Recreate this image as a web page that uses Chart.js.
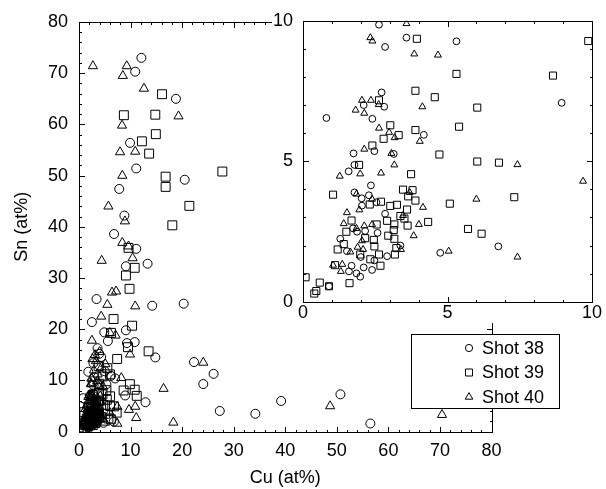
<!DOCTYPE html>
<html>
<head>
<meta charset="utf-8">
<script src="https://cdn.jsdelivr.net/npm/chart.js@4.4.1/dist/chart.umd.min.js"></script>
<style>
  html, body { margin: 0; padding: 0; background: #fff; }
  #wrap { position: relative; width: 606px; height: 489px; }
  #main { position: absolute; left: 0; top: 0; }
  #inset { position: absolute; left: 262px; top: 0; }
</style>
</head>
<body>
<div id="wrap">
  <canvas id="main" width="606" height="489"></canvas>
  <canvas id="inset" width="344" height="323"></canvas>
</div>
<script>
  // series labels
  const seriesNames = ["Shot 38", "Shot 39", "Shot 40"];

  // axis titles / ranges
  const xTitle = "Cu (at%)";
  const yTitle = "Sn (at%)";
  const mainRange = [0, 80];
  const insetRange = [0, 10];

  // Shot 38 (circles)
  const shot38X = [12.1, 10.9, 18.8, 9.9, 11.1, 20.5, 7.8, 8.8, 6.8, 11.1, 13.3, 9.1, 3.4, 14.2, 20.3, 2.5, 9.1, 4.9, 10.8, 9.3, 5.6, 3.6, 3.9, 14.8, 22.3, 26.1, 24.1, 1.8, 7.0, 12.9, 27.3, 34.2, 39.2, 50.7, 56.5, 2.8, 4.3, 3.0, 5.0, 6.2,
    2.63, 3.58, 2.84, 5.31, 2.72, 2.10, 2.81, 8.95, 0.81, 2.40, 4.18, 2.47, 1.75, 3.14, 1.78, 1.58, 2.35, 1.78, 2.28, 2.03, 2.54, 2.04, 2.84, 1.73, 1.87, 2.15, 2.58, 1.29, 3.37, 6.76, 4.75, 1.52, 2.00, 2.91, 2.47, 1.68, 2.10, 1.59, 2.39, 1.85, 1.98, 0.90];
  const shot38Y = [73.0, 70.3, 65.0, 56.4, 51.4, 49.2, 47.4, 42.2, 38.6, 35.7, 32.8, 32.3, 25.9, 24.6, 25.0, 21.4, 19.8, 19.4, 17.5, 17.3, 17.7, 16.3, 15.2, 14.5, 13.6, 11.3, 9.3, 11.7, 10.4, 5.75, 4.05, 3.5, 6.0, 7.3, 1.6, 13.4, 14.6, 10.6, 11.8, 10.9,
    9.86, 9.40, 9.07, 9.27, 7.45, 7.00, 6.94, 7.08, 6.54, 6.51, 5.94, 5.36, 5.28, 5.26, 4.87, 4.64, 4.14, 3.89, 3.79, 3.68, 3.54, 3.42, 3.13, 2.61, 2.49, 2.52, 2.45, 2.24, 2.00, 1.97, 1.74, 1.80, 1.59, 1.62, 1.47, 1.28, 1.22, 1.08, 1.13, 1.01, 0.89, 0.55];

  // Shot 39 (squares)
  const shot39X = [16.1, 8.7, 14.8, 14.9, 12.2, 13.6, 27.8, 16.8, 16.8, 21.4, 18.1, 9.6, 10.8, 9.1, 9.8, 6.7, 10.3, 6.2, 9.5, 7.4, 13.5, 10.8, 11.2, 5.5, 4.6, 6.0, 3.8,
    3.94, 9.87, 5.31, 8.65, 3.89, 4.56, 2.63, 6.03, 3.02, 5.40, 3.89, 3.31, 2.79, 2.40, 4.72, 6.03, 6.78, 1.94, 3.74, 3.46, 3.79, 1.04, 3.64, 2.70, 3.89, 7.31, 5.08, 2.31, 3.02, 3.25, 3.60, 3.37, 3.51, 2.91, 4.33, 1.68, 2.55, 3.16, 3.62, 1.50, 3.14, 5.71, 6.18, 2.95, 2.15, 2.45, 1.41, 3.16, 2.47, 1.20, 3.23, 1.98, 2.63, 3.18, 2.33, 2.68, 1.11, 0.09, 1.61, 0.58, 0.46, 0.39, 0.90];
  const shot39Y = [65.9, 61.8, 61.9, 58.1, 56.7, 54.3, 50.8, 49.8, 47.8, 44.1, 40.3, 35.9, 32.0, 30.5, 27.9, 22.0, 20.7, 19.3, 16.5, 14.2, 15.7, 8.2, 7.0, 12.4, 10.8, 11.2, 12.8,
    9.36, 9.28, 8.11, 8.05, 7.51, 7.28, 7.17, 6.91, 6.28, 6.23, 6.11, 5.93, 5.80, 5.56, 5.24, 4.99, 4.95, 4.87, 4.54, 3.99, 3.97, 3.81, 3.75, 3.56, 3.60, 3.72, 3.49, 3.46, 3.41, 3.45, 3.28, 3.05, 2.96, 2.88, 2.84, 2.89, 2.75, 2.75, 2.71, 2.49, 2.55, 2.59, 2.42, 2.35, 2.26, 2.20, 2.05, 2.24, 1.97, 1.86, 1.91, 1.68, 1.68, 1.68, 1.51, 1.28, 1.30, 0.87, 0.66, 0.68, 0.38, 0.29, 0.55];

  // Shot 40 (triangles)
  const shot40X = [2.7, 9.26, 8.5, 12.6, 19.3, 8.35, 7.96, 10.9, 8.4, 5.7, 8.9, 8.4, 9.6, 4.4, 10.4, 6.4, 7.2, 5.5, 10.9, 4.3, 7.1, 6.0, 2.5, 9.9, 24.1, 16.4, 8.2, 10.9, 11.1, 18.3, 48.7, 70.4, 2.9, 3.3, 3.6, 4.0, 2.4, 4.4, 3.1, 5.1, 2.6,
    3.58, 2.33, 2.40, 3.85, 4.67, 2.04, 2.35, 2.62, 4.13, 1.82, 2.12, 2.63, 2.98, 3.17, 4.04, 2.12, 3.06, 7.42, 3.16, 1.27, 1.98, 2.70, 9.69, 1.85, 3.69, 2.39, 6.00, 4.15, 1.95, 1.52, 3.46, 1.41, 4.01, 1.85, 2.12, 2.39, 3.83, 2.04, 1.89, 2.08, 3.39, 5.04, 1.64, 7.42, 1.04, 1.36, 1.31];
  const shot40Y = [71.4, 71.4, 69.5, 67.0, 61.6, 59.8, 54.6, 54.7, 50.0, 44.0, 41.1, 36.9, 36.2, 33.4, 33.9, 27.2, 27.4, 24.8, 24.5, 22.5, 18.8, 19.3, 17.8, 15.1, 13.5, 8.4, 10.5, 4.9, 2.7, 1.8, 5.0, 3.3, 12.0, 13.8, 11.2, 15.6, 10.4, 12.6, 15.0, 13.2, 14.2,
    9.90, 9.40, 9.28, 8.82, 8.78, 7.17, 7.17, 7.02, 6.94, 6.82, 6.71, 6.18, 6.03, 5.84, 5.71, 5.43, 5.28, 4.88, 4.87, 4.47, 4.55, 4.58, 4.29, 3.83, 3.89, 3.65, 3.65, 3.36, 3.27, 3.17, 3.07, 2.78, 2.75, 2.61, 2.70, 2.75, 2.35, 2.17, 1.94, 1.86, 1.86, 1.80, 1.77, 1.59, 1.30, 1.33, 1.08];

  const fontFamily = "'Liberation Sans', Arial, Helvetica, sans-serif";
  Chart.defaults.font.family = fontFamily;
  Chart.defaults.color = "#000";

  function pairs(xs, ys) {
    return xs.map((x, i) => ({ x: x, y: ys[i] }));
  }

  const allSeries = [
    { name: seriesNames[0], data: pairs(shot38X, shot38Y), style: "circle" },
    { name: seriesNames[1], data: pairs(shot39X, shot39Y), style: "rect" },
    { name: seriesNames[2], data: pairs(shot40X, shot40Y), style: "triangle" }
  ];

  function makeDatasets(radii) {
    return allSeries.map((s) => ({
      label: s.name,
      data: s.data,
      pointStyle: s.style,
      pointRadius: radii[s.style],
      pointBorderWidth: 1,
      pointBorderColor: "#000",
      pointBackgroundColor: "rgba(0,0,0,0)",
      borderColor: "#000",
      backgroundColor: "rgba(0,0,0,0)"
    }));
  }

  function drawMarker(ctx, style, x, y, r) {
    ctx.beginPath();
    if (style === "circle") {
      ctx.arc(x, y, r, 0, Math.PI * 2);
    } else if (style === "rect") {
      ctx.rect(x - r, y - r, 2 * r, 2 * r);
    } else {
      ctx.moveTo(x, y - r);
      ctx.lineTo(x + r * 0.866, y + r * 0.5);
      ctx.lineTo(x - r * 0.866, y + r * 0.5);
      ctx.closePath();
    }
    ctx.stroke();
  }

  // plot box with inward ticks on all four sides, as 1px filled bars
  function drawFrame(chart, f) {
    const ctx = chart.ctx;
    const a = chart.chartArea;
    const xs = chart.scales.x, ys = chart.scales.y;
    const L = Math.round(a.left), R = Math.round(a.right);
    const T = Math.round(a.top), B = Math.round(a.bottom);
    ctx.save();
    ctx.fillStyle = "#000";
    ctx.fillRect(L, T, R - L + 1, 1);
    ctx.fillRect(L, B, R - L + 1, 1);
    ctx.fillRect(L, T, 1, B - T + 1);
    ctx.fillRect(R, T, 1, B - T + 1);
    const n = Math.round((f.max - f.min) / f.minor);
    for (let i = 0; i <= n; i++) {
      const v = f.min + i * f.minor;
      const len = (i % f.every === 0) ? f.majorLen : f.minorLen;
      const px = Math.round(xs.getPixelForValue(v));
      const py = Math.round(ys.getPixelForValue(v));
      ctx.fillRect(px, B - len + 1, 1, len);
      ctx.fillRect(px, T, 1, len);
      ctx.fillRect(L, py, len, 1);
      ctx.fillRect(R - len + 1, py, len, 1);
    }
    ctx.restore();
  }

  function drawLegend(chart, box) {
    const ctx = chart.ctx;
    ctx.save();
    ctx.fillStyle = "#fff";
    ctx.fillRect(box.left, box.top, box.width, box.height);
    ctx.strokeStyle = "#000";
    ctx.lineWidth = 1;
    ctx.strokeRect(box.left + 0.5, box.top + 0.5, box.width, box.height);
    ctx.font = "18px " + fontFamily;
    ctx.textBaseline = "middle";
    ctx.textAlign = "left";
    ctx.fillStyle = "#000";
    const sizes = { circle: 3.6, rect: 3.5, triangle: 4.4 };
    allSeries.forEach((s, i) => {
      const y = box.top + box.rowStart + i * box.rowGap;
      drawMarker(ctx, s.style, box.markerX, y, sizes[s.style]);
      ctx.fillText(s.name, box.textX, y + 1);
    });
    ctx.restore();
  }

  // bg: white area (x from bgLeft) painted before the chart, for the inset
  function makeDecor(id, frame, legend, bgLeft) {
    return {
      id: id,
      beforeDraw(chart) {
        if (bgLeft == null) return;
        const ctx = chart.ctx;
        ctx.save();
        ctx.fillStyle = "#fff";
        ctx.fillRect(bgLeft, 0, chart.width - bgLeft, chart.height);
        ctx.restore();
      },
      afterDraw(chart) {
        drawFrame(chart, frame);
        if (legend) drawLegend(chart, legend);
      }
    };
  }

  function axisFont() {
    return { size: 18, family: fontFamily };
  }

  new Chart(document.getElementById("main"), {
    type: "scatter",
    data: { datasets: makeDatasets({ circle: 4.5, rect: 6.3, triangle: 5.3 }) },
    options: {
      responsive: false,
      animation: false,
      layout: { padding: { top: 22, right: 114.5, left: 0, bottom: 0 } },
      plugins: { legend: { display: false }, tooltip: { enabled: false } },
      scales: {
        x: {
          type: "linear",
          min: mainRange[0],
          max: mainRange[1],
          grid: { display: false, drawTicks: false },
          border: { display: false },
          ticks: { stepSize: 10, padding: 9, color: "#000", font: axisFont(), maxRotation: 0 },
          title: { display: true, text: xTitle, color: "#000", font: axisFont(), padding: { top: 0, bottom: 0 } },
          afterFit: (s) => { s.height = 57.3; }
        },
        y: {
          type: "linear",
          min: mainRange[0],
          max: mainRange[1],
          grid: { display: false, drawTicks: false },
          border: { display: false },
          ticks: { stepSize: 10, padding: 11, color: "#000", font: axisFont() },
          title: { display: true, text: yTitle, color: "#000", font: axisFont(), padding: { top: 11, bottom: 0 } },
          afterFit: (s) => { s.width = 79; }
        }
      }
    },
    plugins: [makeDecor("mainDecor",
      { min: mainRange[0], max: mainRange[1], minor: 2, every: 5, majorLen: 6, minorLen: 3 },
      { left: 411, top: 334, width: 148, height: 74, markerX: 469, textX: 482, rowStart: 14, rowGap: 24.5 },
      null)]
  });

  new Chart(document.getElementById("inset"), {
    type: "scatter",
    data: { datasets: makeDatasets({ circle: 3.4, rect: 5.0, triangle: 4.0 }) },
    options: {
      responsive: false,
      animation: false,
      layout: { padding: { top: 14.3, right: 14, left: 0, bottom: 0 } },
      plugins: { legend: { display: false }, tooltip: { enabled: false } },
      scales: {
        x: {
          type: "linear",
          min: insetRange[0],
          max: insetRange[1],
          grid: { display: false, drawTicks: false },
          border: { display: false },
          ticks: { stepSize: 5, padding: 1, color: "#000", font: axisFont(), maxRotation: 0 },
          afterFit: (s) => { s.height = 21.3; }
        },
        y: {
          type: "linear",
          min: insetRange[0],
          max: insetRange[1],
          grid: { display: false, drawTicks: false },
          border: { display: false },
          ticks: { stepSize: 5, padding: 10, color: "#000", font: axisFont() },
          afterFit: (s) => { s.width = 41; }
        }
      }
    },
    plugins: [makeDecor("insetDecor",
      { min: insetRange[0], max: insetRange[1], minor: 1, every: 5, majorLen: 6, minorLen: 3 },
      null, 10)]
  });
</script>
</body>
</html>
